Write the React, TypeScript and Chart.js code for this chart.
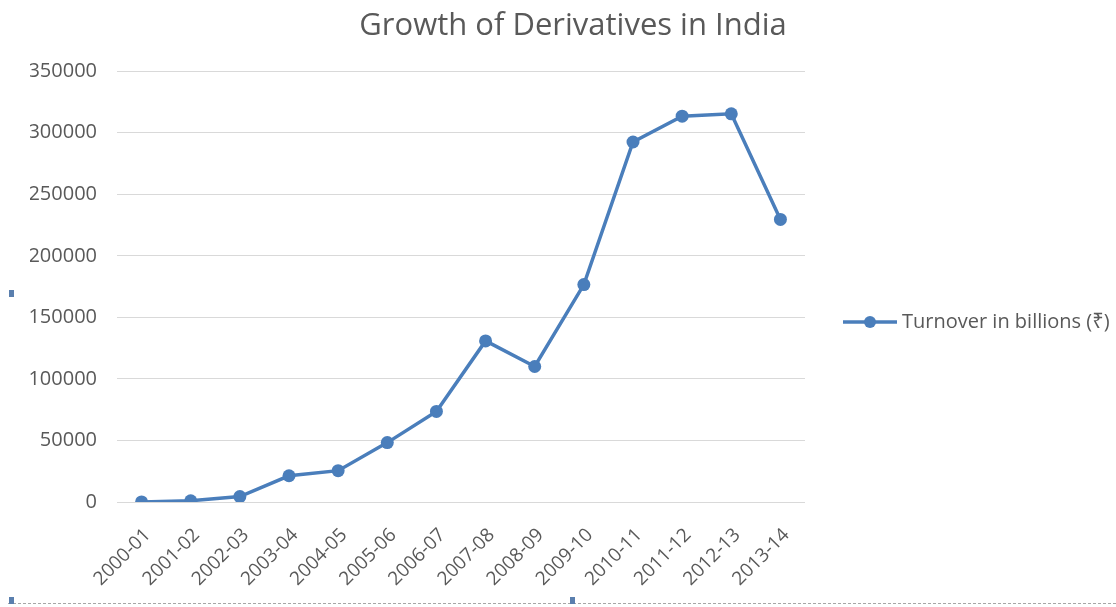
import React, { useEffect, useRef } from 'react';
import { Chart, registerables } from 'chart.js';

Chart.register(...registerables);

const titleText = 'Growth of Derivatives in India';
const seriesLabel = 'Turnover in billions (₹)';
const categories = [
  '2000-01', '2001-02', '2002-03', '2003-04', '2004-05', '2005-06', '2006-07',
  '2007-08', '2008-09', '2009-10', '2010-11', '2011-12', '2012-13', '2013-14',
];
const turnover = [
  24, 1020, 4423, 21306, 25470, 48240, 73562,
  130904, 110104, 176637, 292482, 313497, 315330, 229600,
];
const yTicks = [0, 50000, 100000, 150000, 200000, 250000, 300000, 350000];

const LINE_COLOR = '#4A7EBB';
const TEXT_COLOR = '#595959';
const FONT = "'Open Sans', 'Noto Sans', sans-serif";

const sideLegend = {
  id: 'sideLegend',
  afterDraw(chart: any) {
    const ctx = chart.ctx;
    const ds = chart.data.datasets[0];
    const x0 = chart.chartArea.right + 38;
    const y = Math.round(chart.height * 0.53);
    ctx.save();
    ctx.strokeStyle = ds.borderColor;
    ctx.lineWidth = 3.5;
    ctx.beginPath();
    ctx.moveTo(x0, y);
    ctx.lineTo(x0 + 54, y);
    ctx.stroke();
    ctx.fillStyle = ds.pointBackgroundColor;
    ctx.beginPath();
    ctx.arc(x0 + 27, y, 6, 0, Math.PI * 2);
    ctx.fill();
    ctx.fillStyle = TEXT_COLOR;
    ctx.font = `20px ${FONT}`;
    ctx.textBaseline = 'middle';
    ctx.textAlign = 'left';
    ctx.fillText(ds.label, x0 + 59, y);
    ctx.restore();
  },
};

export default function App() {
  const canvasRef = useRef<HTMLCanvasElement | null>(null);

  useEffect(() => {
    const canvas = canvasRef.current;
    if (!canvas) return;
    const chart = new Chart(canvas, {
      type: 'line',
      data: {
        labels: categories,
        datasets: [
          {
            label: seriesLabel,
            data: turnover,
            borderColor: LINE_COLOR,
            backgroundColor: LINE_COLOR,
            pointBackgroundColor: LINE_COLOR,
            pointBorderColor: LINE_COLOR,
            pointRadius: 6.5,
            pointBorderWidth: 0,
            borderWidth: 3.5,
            tension: 0,
            yAxisID: 'y',
          },
        ],
      },
      options: {
        responsive: false,
        animation: false,
        devicePixelRatio: 1,
        layout: { padding: { left: 30, right: 0, top: 0, bottom: 0 } },
        plugins: {
          legend: { display: false },
          tooltip: { enabled: false },
          title: {
            display: true,
            text: titleText,
            color: TEXT_COLOR,
            font: { family: FONT, size: 31, weight: 'normal' },
            padding: { top: 8, bottom: 26 },
          },
        },
        scales: {
          x: {
            offset: true,
            grid: { display: false, drawTicks: false },
            border: { display: false },
            ticks: {
              autoSkip: false,
              maxRotation: 45,
              minRotation: 45,
              padding: 22,
              labelOffset: 6,
              color: TEXT_COLOR,
              font: { family: FONT, size: 19 },
            },
            afterFit(scale: any) {
              scale.height = 105;
            },
          },
          y: {
            position: 'left',
            min: yTicks[0],
            max: yTicks[yTicks.length - 1],
            afterBuildTicks(scale: any) {
              scale.ticks = yTicks.map((v) => ({ value: v }));
            },
            grid: { color: '#D9D9D9', lineWidth: 1, drawTicks: false },
            border: { display: false },
            ticks: {
              padding: 20,
              color: TEXT_COLOR,
              font: { family: FONT, size: 20 },
              callback: (v: any) => String(v),
            },
            afterFit(scale: any) {
              scale.width = 87;
            },
          },
          y2: {
            position: 'right',
            grid: { display: false, drawTicks: false },
            border: { display: false },
            ticks: { display: false },
            afterFit(scale: any) {
              scale.width = 311;
            },
          },
        },
      },
      plugins: [sideLegend],
    });
    return () => chart.destroy();
  }, []);

  const handle = (left: number, top: number) => (
    <div
      style={{
        position: 'absolute',
        left,
        top,
        width: 5,
        height: 7,
        background: '#5A7FAE',
      }}
    />
  );

  return (
    <div style={{ position: 'absolute', left: 0, top: 0, width: 1116, height: 607, overflow: 'hidden', background: '#fff' }}>
      <canvas ref={canvasRef} width={1116} height={607} style={{ position: 'absolute', left: 0, top: 0 }} />
      <div
        style={{
          position: 'absolute',
          left: 8,
          top: 603,
          width: 1108,
          height: 0,
          borderTop: '1px dashed #A6A6A6',
        }}
      />
      {handle(9, 290)}
      {handle(9, 597)}
      {handle(570, 597)}
    </div>
  );
}
